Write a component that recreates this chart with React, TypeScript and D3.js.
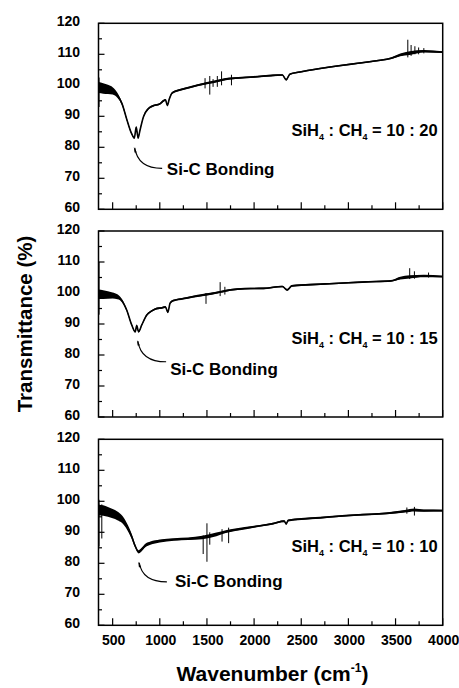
import React from "react";
import * as d3 from "d3";

// ---------- data ----------
const X_TICKS = [500, 1000, 1500, 2000, 2500, 3000, 3500, 4000];
const X_MINOR = [750, 1250, 1750, 2250, 2750, 3250, 3750];
const Y_TICKS = [60, 70, 80, 90, 100, 110, 120];
const Y_MINOR = [65, 75, 85, 95, 105, 115];

// SiH4 : CH4 = 10 : 20
const W_TOP = [350, 400, 450, 500, 550, 600, 650, 700, 730, 750, 770, 790, 826, 880, 930, 1000, 1040, 1060, 1080, 1100, 1130, 1200, 1300, 1400, 1500, 1600, 1700, 1800, 2000, 2200, 2300, 2340, 2380, 2500, 2700, 2900, 3100, 3300, 3450, 3550, 3650, 3800, 4000];
const V_TOP = [99.3, 99, 98.7, 98.2, 96.8, 94, 89, 84.5, 83, 86.5, 83, 85.5, 89.8, 92.5, 93.4, 94, 95, 95.3, 93.5, 95.5, 97.5, 98.4, 99.2, 100, 100.7, 101.3, 102, 102.3, 102.7, 103.2, 103.3, 101.8, 103.6, 104.4, 105.4, 106.3, 107.1, 107.9, 108.7, 109.8, 110.4, 111, 110.7];
const B_TOP = [1.8, 1.7, 1.5, 1.2, 0.8, 0.5, 0.4, 0.35, 0.3, 0.3, 0.3, 0.3, 0.3, 0.3, 0.3, 0.3, 0.3, 0.3, 0.3, 0.3, 0.3, 0.3, 0.3, 0.3, 0.4, 0.4, 0.35, 0.3, 0.3, 0.25, 0.25, 0.3, 0.25, 0.25, 0.25, 0.25, 0.25, 0.25, 0.3, 0.45, 0.6, 0.4, 0.3];
const S_TOP = [[356, 93, 102.5], [1480, 99, 102.3], [1530, 97, 103], [1565, 99.5, 102], [1610, 99.5, 103], [1655, 100, 104.5], [1760, 100, 103.4], [3630, 109, 114.7], [3665, 109.5, 113], [3705, 110, 112.6], [3745, 110, 112.2], [3800, 110.3, 112]];

// SiH4 : CH4 = 10 : 15
const W_MID = [350, 400, 500, 550, 578, 649, 702, 740, 755, 775, 809, 862, 920, 968, 1020, 1060, 1085, 1110, 1150, 1250, 1350, 1450, 1550, 1650, 1750, 1900, 2100, 2300, 2350, 2400, 2600, 2800, 3000, 3200, 3450, 3550, 3650, 3800, 4000];
const V_MID = [99.6, 99.5, 99.2, 98.8, 98.3, 94.5, 89.7, 87.5, 89.5, 87.5, 89.7, 92.9, 94.3, 95, 95.2, 95.5, 93.8, 96.8, 97.6, 98.2, 98.8, 99.3, 99.8, 100.4, 101, 101.4, 101.5, 102.1, 101, 102.3, 102.7, 103, 103.3, 103.6, 103.9, 104.8, 105.2, 105.5, 105.3];
const B_MID = [1.5, 1.4, 1.0, 0.8, 0.6, 0.4, 0.3, 0.3, 0.3, 0.3, 0.3, 0.3, 0.3, 0.3, 0.3, 0.3, 0.3, 0.3, 0.3, 0.3, 0.3, 0.35, 0.35, 0.35, 0.3, 0.25, 0.25, 0.25, 0.3, 0.25, 0.25, 0.25, 0.25, 0.25, 0.25, 0.45, 0.5, 0.4, 0.3];
const S_MID = [[356, 93, 110], [1490, 96.5, 100], [1640, 99, 103.5], [1690, 99.5, 102], [3650, 104.5, 108], [3700, 104.6, 107], [3850, 105, 106.6]];

// SiH4 : CH4 = 10 : 10
const W_BOT = [350, 400, 450, 500, 550, 600, 650, 700, 740, 775, 800, 850, 900, 1000, 1150, 1300, 1450, 1600, 1700, 1800, 2000, 2200, 2320, 2340, 2360, 2500, 2700, 2900, 3100, 3400, 3600, 3700, 3800, 4000];
const V_BOT = [97.2, 97, 96.6, 96, 95.3, 94.2, 92, 88.8, 85.5, 83.7, 84.2, 85.8, 86.5, 87.2, 87.7, 87.9, 88.3, 89.3, 90.2, 90.8, 91.8, 92.8, 93.6, 92.7, 93.8, 94.3, 94.7, 95.2, 95.6, 96.1, 96.8, 97.2, 97, 97];
const B_BOT = [1.8, 1.7, 1.6, 1.5, 1.4, 1.2, 1.0, 0.8, 0.6, 0.5, 0.55, 0.55, 0.5, 0.45, 0.4, 0.4, 0.55, 0.6, 0.45, 0.4, 0.3, 0.3, 0.3, 0.3, 0.3, 0.3, 0.3, 0.3, 0.3, 0.3, 0.4, 0.45, 0.35, 0.3];
const S_BOT = [[356, 85.4, 100.5], [385, 88, 99], [1460, 83, 89], [1500, 80.5, 92.9], [1530, 86, 90], [1660, 87, 91], [1730, 86.5, 91.5], [3620, 96, 98], [3700, 95.4, 98.2]];

const RATIOS = ["20", "15", "10"];

// annotation anchors in data units: [arrow tip, arrow tail, label start]
const ANNOTS = [
  { tip: [735, 79.8], tail: [1025, 73.2], label: [1075, 71] },
  { tip: [768, 84.5], tail: [1067, 77.8], label: [1110, 73.5] },
  { tip: [782, 80.2], tail: [1075, 74], label: [1160, 72.5] },
];

const SERIES = [
  { w: W_TOP, v: V_TOP, b: B_TOP, s: S_TOP },
  { w: W_MID, v: V_MID, b: B_MID, s: S_MID },
  { w: W_BOT, v: V_BOT, b: B_BOT, s: S_BOT },
];

// ---------- layout ----------
const WIDTH = 459;
const HEIGHT = 688;
const LEFT = 98.5;
const RIGHT = 442.7;
const PANEL_TOPS = [23.3, 231, 439.3];
const PANEL_H = 186;
const FONT = "'Liberation Sans', Arial, Helvetica, sans-serif";

function Panel({ idx }: { idx: number }) {
  const top = PANEL_TOPS[idx];
  const bottom = top + PANEL_H;
  const x = d3.scaleLinear().domain([350, 4000]).range([LEFT, RIGHT]);
  const y = d3.scaleLinear().domain([60, 120]).range([bottom, top]);
  const ser = SERIES[idx];
  const pts = ser.w.map((w, i) => ({ w, v: ser.v[i], b: ser.b[i] }));
  const line = d3
    .line<{ w: number; v: number; b: number }>()
    .x((d) => x(d.w))
    .y((d) => y(d.v))
    .curve(d3.curveMonotoneX);
  const area = d3
    .area<{ w: number; v: number; b: number }>()
    .x((d) => x(d.w))
    .y0((d) => y(d.v - d.b))
    .y1((d) => y(d.v + d.b))
    .curve(d3.curveMonotoneX);
  const an = ANNOTS[idx];
  const tx = x(an.tip[0]);
  const ty = y(an.tip[1]);
  const ex = x(an.tail[0]);
  const ey = y(an.tail[1]);
  const arrowPath = `M${tx},${ty} Q${tx + 3},${ey} ${ex},${ey}`;
  const isBottom = idx === 2;
  return (
    <g>
      <defs>
        <clipPath id={`clip${idx}`}>
          <rect x={LEFT} y={top} width={RIGHT - LEFT} height={PANEL_H} />
        </clipPath>
      </defs>
      <g clipPath={`url(#clip${idx})`}>
        <path d={area(pts) || ""} fill="#000" />
        <path d={line(pts) || ""} fill="none" stroke="#000" strokeWidth={1.6} strokeLinejoin="round" />
        {ser.s.map((s, i) => (
          <line key={i} x1={x(s[0])} x2={x(s[0])} y1={y(s[1])} y2={y(s[2])} stroke="#000" strokeWidth={1} />
        ))}
      </g>
      {/* frame */}
      <rect x={LEFT} y={top} width={RIGHT - LEFT} height={PANEL_H} fill="none" stroke="#000" strokeWidth={1.5} />
      {/* y ticks */}
      {Y_TICKS.map((t) => (
        <g key={`y${t}`}>
          <line x1={LEFT} x2={LEFT + 6} y1={y(t)} y2={y(t)} stroke="#000" strokeWidth={1.2} />
          <text x={80} y={y(t) + 2.5} textAnchor="end" fontFamily={FONT} fontWeight="bold" fontSize={14}>
            {t}
          </text>
        </g>
      ))}
      {Y_MINOR.map((t) => (
        <line key={`ym${t}`} x1={LEFT} x2={LEFT + 3.5} y1={y(t)} y2={y(t)} stroke="#000" strokeWidth={1.2} />
      ))}
      {/* x ticks */}
      {X_TICKS.map((t) => (
        <g key={`x${t}`}>
          <line x1={x(t)} x2={x(t)} y1={bottom} y2={bottom - 7} stroke="#000" strokeWidth={1.2} />
          {isBottom && (
            <text x={x(t) + 1} y={bottom + 19.5} textAnchor="middle" fontFamily={FONT} fontWeight="bold" fontSize={14}>
              {t}
            </text>
          )}
        </g>
      ))}
      {X_MINOR.map((t) => (
        <line key={`xm${t}`} x1={x(t)} x2={x(t)} y1={bottom} y2={bottom - 4} stroke="#000" strokeWidth={1.2} />
      ))}
      {/* ratio label */}
      <text x={RIGHT - 5} y={y(83.7)} textAnchor="end" fontFamily={FONT} fontWeight="bold" fontSize={16.5}>
        SiH
        <tspan fontSize={9} dy={4}>4</tspan>
        <tspan dy={-4}> : CH</tspan>
        <tspan fontSize={9} dy={4}>4</tspan>
        <tspan dy={-4}>{` = 10 : ${RATIOS[idx]}`}</tspan>
      </text>
      {/* Si-C bonding annotation */}
      <path d={arrowPath} fill="none" stroke="#000" strokeWidth={1.1} />
      <path d={`M${tx - 1},${ty - 1} L${tx + 2},${ty + 4.5} L${tx - 0.3},${ty + 4.5}Z`} fill="#000" />
      <text x={x(an.label[0])} y={y(an.label[1])} fontFamily={FONT} fontWeight="bold" fontSize={17}>
        Si-C Bonding
      </text>
    </g>
  );
}

export default function App() {
  return (
    <svg
      width={WIDTH}
      height={HEIGHT}
      style={{ position: "absolute", left: 0, top: 0, background: "#fff" }}
      xmlns="http://www.w3.org/2000/svg"
    >
      <rect width={WIDTH} height={HEIGHT} fill="#fff" />
      {[0, 1, 2].map((i) => (
        <Panel key={i} idx={i} />
      ))}
      <text
        transform={`translate(32,324) rotate(-90)`}
        textAnchor="middle"
        fontFamily={FONT}
        fontWeight="bold"
        fontSize={20.5}
      >
        Transmittance (%)
      </text>
      <text x={272.5} y={681} textAnchor="middle" fontFamily={FONT} fontWeight="bold" fontSize={21}>
        Wavenumber (cm
        <tspan fontSize={12} dy={-9}>-1</tspan>
        <tspan dy={9}>)</tspan>
      </text>
    </svg>
  );
}
